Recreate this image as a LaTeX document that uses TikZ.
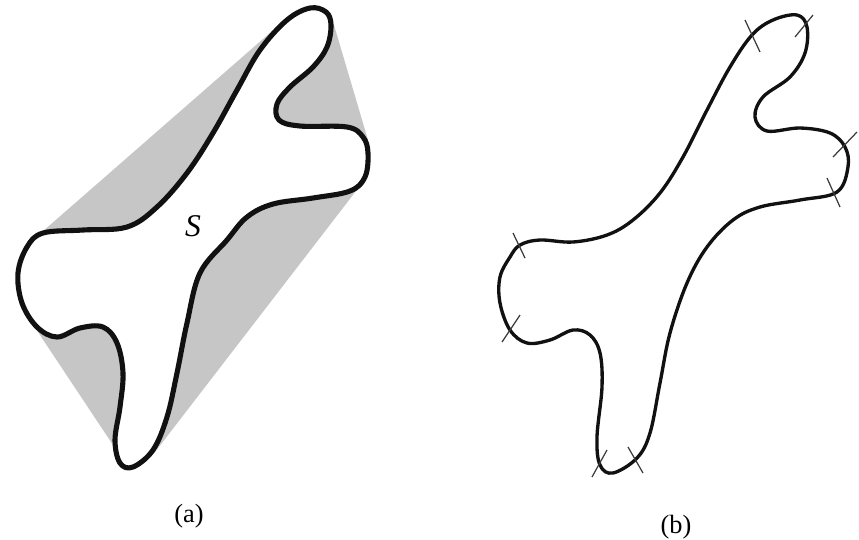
\documentclass[tikz,border=0pt]{standalone}
\usepackage{fontspec}
\setmainfont{Liberation Serif}
\usetikzlibrary{calc}
\definecolor{ink}{HTML}{111111}
\definecolor{inktwo}{HTML}{3A3A3A}
\definecolor{hullgray}{HTML}{C6C6C6}

\begin{document}
\begin{tikzpicture}[
      x=0.02cm, y=-0.02cm,
      outline/.style={draw=ink, line width=2.9pt, line join=round},
      thinoutline/.style={draw=ink, line width=1.9pt, line join=round},
      hull/.style={fill=hullgray, draw=none},
      hullmark/.style={draw=inktwo, line width=0.7pt},
      caption/.style={font=\fontsize{15}{17}\selectfont},
    ]
      \useasboundingbox (0,0) rectangle (859,539);

      % (a) convex hull behind the region S
      \fill[hull] (287,18) -- (310,6) -- (328,10) -- (334,25)
        -- (368,140) -- (369,160) -- (366,178)
        -- (155,452) -- (135,469) -- (118,465) -- (113,445)
        -- (20,305) -- (16,273) -- (25,246) -- (42,232) -- cycle;

      \filldraw[outline, fill=white] plot[smooth cycle, tension=0.6] coordinates {
        (287,20) (310,8) (326,12) (331,25) (327,47) (313,67) (290,87)
        (277,104) (279,120) (300,126) (347,127) (363,137) (368,153)
        (365,177) (350,191) (313,198) (273,204) (247,217) (227,240)
        (200,273) (187,323) (177,373) (167,417) (153,450) (133,467)
        (120,463) (115,440) (120,407) (123,373) (117,343) (103,327)
        (80,328) (57,337) (37,327) (22,303) (18,273) (27,247) (43,233)
        (83,230) (127,227) (157,207) (187,173) (213,133) (237,90) (260,50)
      };

      \node[font=\fontsize{18}{20}\selectfont\itshape] (regionS) at (193,226) {S};
      \node[caption] (capa) at (189,516) {(a)};

      % (b) the same outline, hull contact arcs marked
      \draw[thinoutline] plot[smooth cycle, tension=0.6] coordinates {
        (752,35) (773,20) (797,15) (807,27) (805,53) (790,77) (763,97)
        (755,117) (767,131) (800,128) (830,133) (845,147) (848,167)
        (837,192) (800,200) (760,207) (733,220) (707,247) (687,283)
        (670,333) (660,383) (650,433) (637,458) (613,473) (600,465)
        (597,437) (602,387) (600,353) (590,335) (573,330) (550,340)
        (527,343) (510,330) (500,303) (500,277) (510,257) (520,245)
        (540,240) (573,242) (607,235) (633,220) (660,193) (683,157)
        (707,110) (730,67)
      };

      \foreach \ax/\ay/\bx/\by in {745/20/760/52, 813/15/795/37,
          857/132/833/157, 827/178/840/207, 513/233/525/258,
          502/342/520/315, 592/477/607/450, 628/447/643/473}
        \draw[hullmark] (\ax,\ay) -- (\bx,\by);

      \node[caption] (capb) at (676,527) {(b)};

    \end{tikzpicture}
\end{document}
